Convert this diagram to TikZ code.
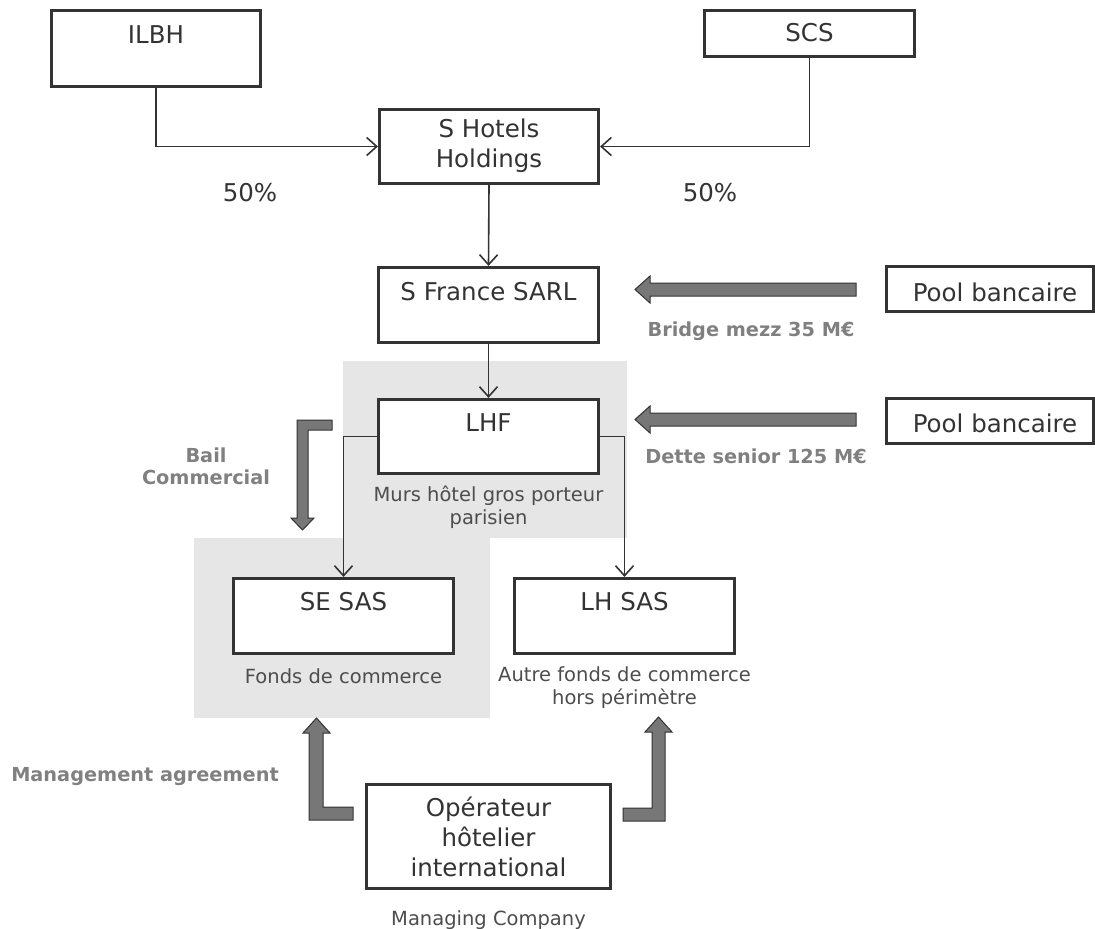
\documentclass[tikz,border=0pt]{standalone}
\usepackage{fontspec}
\setmainfont{DejaVu Sans}
\usetikzlibrary{arrows.meta}
\definecolor{ink}{HTML}{333333}
\definecolor{subt}{HTML}{4D4D4D}
\definecolor{lab}{HTML}{808080}
\definecolor{zone}{HTML}{E6E6E6}
\definecolor{arrf}{HTML}{777777}
\begin{document}
\begin{tikzpicture}[x=1pt,y=-1pt,
  box/.style={draw=ink, line width=3.2pt, fill=white, inner sep=0pt},
  big/.style={text=ink, font=\fontsize{24.5}{30}\selectfont, align=center, inner sep=0pt},
  small/.style={text=subt, font=\fontsize{19.5}{23}\selectfont, align=center, inner sep=0pt},
  tag/.style={text=lab, font=\bfseries\fontsize{19.3}{22}\selectfont, align=center, inner sep=0pt},
  conn/.style={draw=ink, line width=1.6pt, -{Straight Barb[length=10pt,width=18pt]}},
  blockarrow/.style={draw=ink, line width=1pt, fill=arrf, line join=miter}
]
\useasboundingbox (0,0) rectangle (1095,929);
% shaded zones
\fill[zone] (343,361) rectangle (627,538);
\fill[zone] (194,538) rectangle (490,718);

% boxes
\node[box, minimum width=209pt, minimum height=76pt] (ilbh) at (156,48.5) {};
\node[box, minimum width=210pt, minimum height=46pt] (scs) at (809.5,33.5) {};
\node[box, minimum width=219pt, minimum height=74pt] (shh) at (489,146.5) {};
\node[box, minimum width=220pt, minimum height=75pt] (sfs) at (488.5,305) {};
\node[box, minimum width=220pt, minimum height=74pt] (lhf) at (488.5,436.5) {};
\node[box, minimum width=220pt, minimum height=75pt] (se) at (343.5,616) {};
\node[box, minimum width=220pt, minimum height=75pt] (lh) at (624.5,616) {};
\node[box, minimum width=244pt, minimum height=104pt] (ope) at (488.5,836.5) {};
\node[box, minimum width=207pt, minimum height=45pt] (pool1) at (990,289) {};
\node[box, minimum width=207pt, minimum height=45pt] (pool2) at (990,421) {};

% box texts
\node[big] (ilbht) at (156,35) {ILBH};
\node[big] (scst) at (809.5,33) {SCS};
\node[big] (shht) at (489,146) {S Hotels\\Holdings};
\node[big] (sfst) at (488.5,292) {S France SARL};
\node[big] (lhft) at (488.5,423) {LHF};
\node[big] (set) at (343.5,602) {SE SAS};
\node[big] (lht) at (624.5,602) {LH SAS};
\node[big] (opet) at (488.5,837) {Opérateur\\hôtelier\\international};
\node[big] (pool1t) at (995,292) {Pool bancaire};
\node[big] (pool2t) at (995,423) {Pool bancaire};

% other texts
\node[big] (p1) at (250,193) {50\%};
\node[big] (p2) at (710,193) {50\%};
\node[small] (murs) at (488.5,507) {Murs hôtel gros porteur\\parisien};
\node[small] (fonds) at (343.5,676) {Fonds de commerce};
\node[small] (autre) at (624.5,688) {Autre fonds de commerce\\hors périmètre};
\node[small] (mc) at (488.5,920) {Managing Company};
\node[tag] (bridge) at (751,331) {Bridge mezz 35 M€};
\node[tag] (dette) at (756,456) {Dette senior 125 M€};
\node[tag] (bail) at (206,466) {Bail\\Commercial};
\node[tag] (mgmt) at (145,777) {Management agreement};

% connectors
\draw[conn] (ilbh.south) |- (shh.west);
\draw[conn] (scs.south) |- (shh.east);
\draw[conn] (shh.south) -- (sfs.north);
\draw[conn] (sfs.south) -- (lhf.north);
\draw[conn] (lhf.west) -| (se.north);
\draw[conn] (lhf.east) -| (lh.north);

% block arrows
\draw[blockarrow] (856,283) -- (650,283) -- (650,276) -- (635,289.5) -- (650,303) -- (650,296) -- (856,296) -- cycle;
\draw[blockarrow] (856,413) -- (650,413) -- (650,406) -- (635,419.5) -- (650,433) -- (650,426) -- (856,426) -- cycle;
\draw[blockarrow] (332,420) -- (297,420) -- (297,518) -- (291,518) -- (302.5,530) -- (314,518) -- (308,518) -- (308,430) -- (332,430) -- cycle;
\draw[blockarrow] (353,807) -- (323,807) -- (323,733) -- (330,733) -- (316.5,718) -- (303,733) -- (309,733) -- (309,820) -- (353,820) -- cycle;
\draw[blockarrow] (623,808) -- (652,808) -- (652,732) -- (645,732) -- (658.5,717) -- (672,732) -- (665,732) -- (665,821) -- (623,821) -- cycle;
\end{tikzpicture}
\end{document}
